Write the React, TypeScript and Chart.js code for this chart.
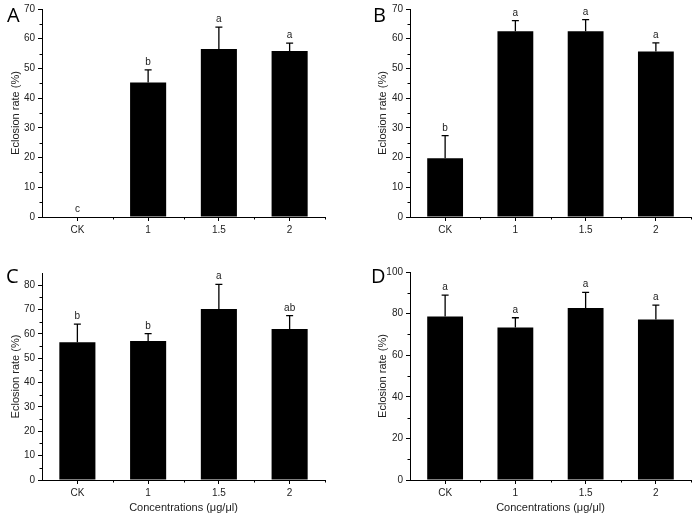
import React, { useEffect, useRef } from "react";
import { Chart, registerables } from "chart.js";

Chart.register(...registerables);

const categories = ["CK", "1", "1.5", "2"];

const meanA = [0, 45.3, 56.5, 55.9];
const errA = [0, 4.2, 7.4, 2.6];
const lettersA = ["c", "b", "a", "a"];

const meanB = [19.8, 62.5, 62.5, 55.7];
const errB = [7.6, 3.6, 3.9, 2.9];
const lettersB = ["b", "a", "a", "a"];

const meanC = [56.6, 57.1, 70.2, 62.0];
const errC = [7.4, 3.0, 10.1, 5.5];
const lettersC = ["b", "b", "a", "ab"];

const meanD = [78.6, 73.3, 82.7, 77.2];
const errD = [10.3, 4.7, 7.5, 6.9];
const lettersD = ["a", "a", "a", "a"];

const yTitle = "Eclosion rate (%)";
const xTitle = "Concentrations (\u03bcg/\u03bcl)";

const FONT = "'Liberation Sans', Arial, sans-serif";
const INK = "#000";
const TEXT = "#222";

type PanelProps = {
  label: string;
  labelPos: [number, number];
  left: number;
  top: number;
  width: number;
  height: number;
  pad: { left: number; right: number; top: number; bottom: number };
  yWidth: number;
  xHeight: number;
  means: number[];
  errs: number[];
  letters: string[];
  yMax: number;
  yStep: number;
  yMinor: number;
  showXTitle: boolean;
};

function Panel(p: PanelProps) {
  const ref = useRef<HTMLCanvasElement>(null);
  useEffect(() => {
    if (!ref.current) return;
    const annot = {
      id: "annot",
      afterDatasetsDraw(chart: any) {
        const ctx = chart.ctx;
        const xs = chart.scales.x;
        const ys = chart.scales.y;
        const area = chart.chartArea;
        ctx.save();
        // error bars + letters
        ctx.strokeStyle = INK;
        ctx.lineWidth = 1.3;
        p.means.forEach((m, i) => {
          const x = xs.getPixelForValue(i);
          const y0 = ys.getPixelForValue(m);
          const y1 = ys.getPixelForValue(m + p.errs[i]);
          if (p.errs[i] > 0) {
            ctx.beginPath();
            ctx.moveTo(x, y0);
            ctx.lineTo(x, y1);
            ctx.moveTo(x - 3.5, y1);
            ctx.lineTo(x + 3.5, y1);
            ctx.stroke();
          }
          ctx.fillStyle = TEXT;
          ctx.font = `10px ${FONT}`;
          ctx.textAlign = "center";
          ctx.textBaseline = "alphabetic";
          ctx.fillText(p.letters[i], x, y1 - 5);
        });
        ctx.restore();
      },
      afterDraw(chart: any) {
        const ctx = chart.ctx;
        const xs = chart.scales.x;
        const ys = chart.scales.y;
        const area = chart.chartArea;
        ctx.save();
        ctx.strokeStyle = INK;
        ctx.lineWidth = 1;
        // minor y ticks
        for (let v = p.yMinor; v < p.yMax; v += p.yStep) {
          const y = Math.round(ys.getPixelForValue(v)) + 0.5;
          ctx.beginPath();
          ctx.moveTo(area.left - 2.5, y);
          ctx.lineTo(area.left, y);
          ctx.stroke();
        }
        // minor x ticks at category boundaries
        for (let i = 0; i < categories.length; i++) {
          const x = Math.round(xs.getPixelForValue(i + 0.5)) + 0.5;
          ctx.beginPath();
          ctx.moveTo(x, area.bottom);
          ctx.lineTo(x, area.bottom + 2.5);
          ctx.stroke();
        }
        // panel label
        ctx.fillStyle = "#000";
        ctx.font = `20px 'Open Sans', sans-serif`;
        ctx.textAlign = "left";
        ctx.textBaseline = "alphabetic";
        ctx.fillText(p.label, p.labelPos[0], p.labelPos[1]);
        ctx.restore();
      },
    };
    const chart = new Chart(ref.current, {
      type: "bar",
      data: {
        labels: categories,
        datasets: [
          {
            data: p.means,
            backgroundColor: "#000",
            borderColor: "#000",
            borderWidth: 0,
            barPercentage: 0.51,
            categoryPercentage: 1,
          },
        ],
      },
      options: {
        animation: false,
        responsive: false,
        layout: { padding: p.pad },
        plugins: { legend: { display: false }, tooltip: { enabled: false } },
        scales: {
          x: {
            offset: true,
            z: 1,
            grid: {
              offset: false,
              drawOnChartArea: false,
              drawTicks: true,
              tickLength: 4,
              color: INK,
            },
            border: { display: true, color: INK, width: 1 },
            ticks: { color: TEXT, font: { family: FONT, size: 10 }, padding: 3, maxRotation: 0 },
            title: {
              display: p.showXTitle,
              text: xTitle,
              color: TEXT,
              font: { family: FONT, size: 11 },
              padding: { top: 4, bottom: 5 },
            },
            afterFit: (s: any) => {
              s.height = p.xHeight;
            },
          },
          y: {
            min: 0,
            max: p.yMax,
            z: 1,
            grid: {
              drawOnChartArea: false,
              drawTicks: true,
              tickLength: 4,
              color: INK,
            },
            border: { display: true, color: INK, width: 1 },
            ticks: {
              stepSize: p.yStep,
              includeBounds: false,
              color: TEXT,
              font: { family: FONT, size: 10 },
              padding: 3,
            },
            title: {
              display: true,
              text: yTitle,
              color: TEXT,
              font: { family: FONT, size: 11 },
              padding: { top: 9, bottom: 4 },
            },
            afterFit: (s: any) => {
              s.width = p.yWidth;
            },
          },
        },
      },
      plugins: [annot],
    } as any);
    return () => chart.destroy();
  }, []);
  return (
    <canvas
      ref={ref}
      width={p.width}
      height={p.height}
      style={{
        position: "absolute",
        left: p.left,
        top: p.top,
        width: p.width,
        height: p.height,
      }}
    />
  );
}

export default function App() {
  return (
    <div
      style={{
        position: "absolute",
        left: 0,
        top: 0,
        width: 697,
        height: 520,
        background: "#fff",
        overflow: "hidden",
      }}
    >
      <Panel
        label="A"
        labelPos={[7, 22]}
        left={0}
        top={0}
        width={348}
        height={245}
        pad={{ left: 0, right: 23, top: 9, bottom: 0 }}
        yWidth={42}
        xHeight={28}
        means={meanA}
        errs={errA}
        letters={lettersA}
        yMax={70}
        yStep={10}
        yMinor={5}
        showXTitle={false}
      />
      <Panel
        label="B"
        labelPos={[25, 22]}
        left={348}
        top={0}
        width={349}
        height={245}
        pad={{ left: 19, right: 6, top: 9, bottom: 0 }}
        yWidth={43}
        xHeight={28}
        means={meanB}
        errs={errB}
        letters={lettersB}
        yMax={70}
        yStep={10}
        yMinor={5}
        showXTitle={false}
      />
      <Panel
        label="C"
        labelPos={[6, 38]}
        left={0}
        top={245}
        width={348}
        height={275}
        pad={{ left: 0, right: 23, top: 28, bottom: 0 }}
        yWidth={42}
        xHeight={40}
        means={meanC}
        errs={errC}
        letters={lettersC}
        yMax={85}
        yStep={10}
        yMinor={5}
        showXTitle={true}
      />
      <Panel
        label="D"
        labelPos={[23, 38]}
        left={348}
        top={245}
        width={349}
        height={275}
        pad={{ left: 19, right: 6, top: 27, bottom: 0 }}
        yWidth={43}
        xHeight={40}
        means={meanD}
        errs={errD}
        letters={lettersD}
        yMax={100}
        yStep={20}
        yMinor={10}
        showXTitle={true}
      />
    </div>
  );
}
